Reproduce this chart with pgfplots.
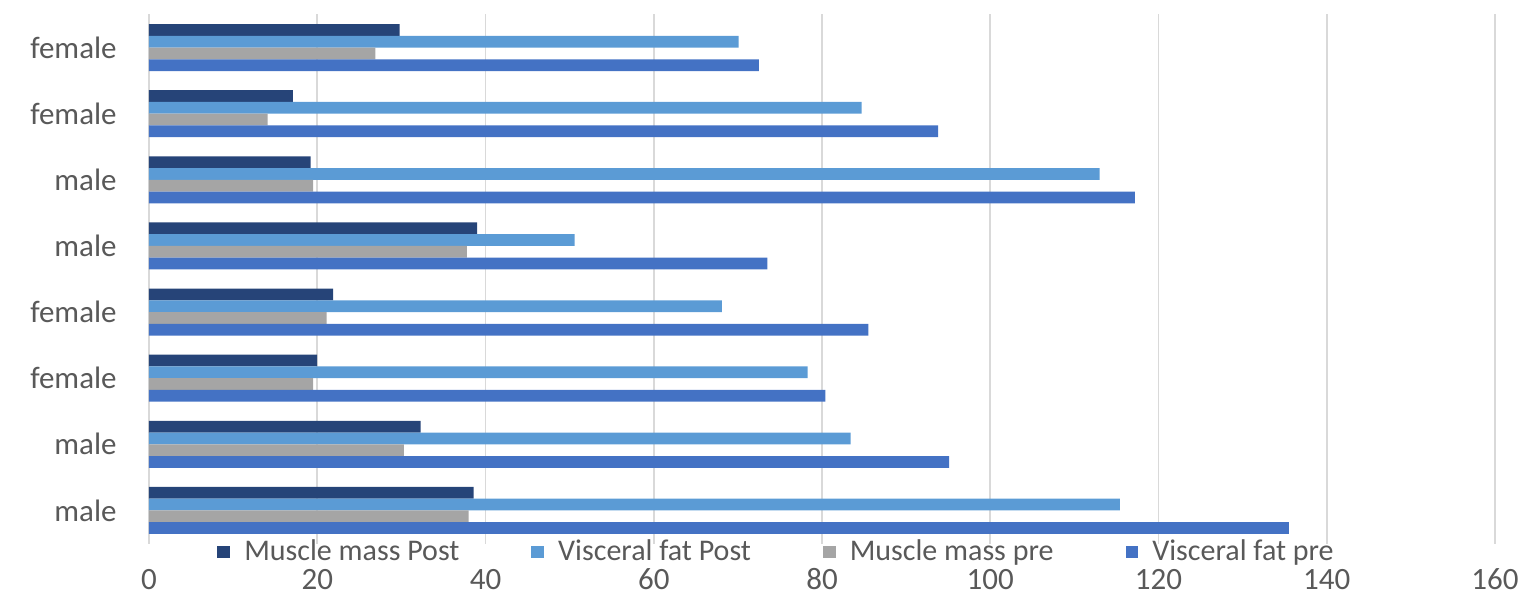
\documentclass[border=0pt]{standalone}
\usepackage{pgfplots}
\pgfplotsset{compat=1.18}
\usepackage{fontspec}
\setmainfont{Carlito}

\definecolor{mmpost}{HTML}{264478}
\definecolor{vfpost}{HTML}{5B9BD5}
\definecolor{mmpre}{HTML}{A5A5A5}
\definecolor{vfpre}{HTML}{4472C4}
\definecolor{txt}{HTML}{595959}
\definecolor{gridc}{HTML}{D9D9D9}

\begin{document}
\begin{tikzpicture}
\path[use as bounding box] (-74.5bp,-27.25bp) rectangle (694bp,271.75bp);
\begin{axis}[
  at={(0,0)}, anchor=south west,
  scale only axis,
  width=673bp, height=264.5bp,
  xbar, bar width=0.178,
  xmin=0, xmax=160,
  ymin=-0.5, ymax=7.5,
  xtick={0,20,...,160},
  ytick={0,1,2,3,4,5,6,7},
  yticklabels={male,male,female,female,male,male,female,female},
  xmajorgrids, grid style={draw=gridc, line width=0.9bp},
  axis line style={draw=none},
  major tick length=0pt,
  font=\fontsize{15.5bp}{18bp}\selectfont,
  /pgf/number format/assume math mode=true,
  tick label style={text=txt},
  xticklabel style={anchor=center, inner sep=0pt, yshift=-18bp},
  yticklabel style={anchor=east, inner sep=0pt, xshift=-16bp},
  legend columns=4,
  legend style={at={(0.467,-0.016)}, anchor=center, draw=none, fill=none,
    font=\fontsize{15bp}{17bp}\selectfont, text=txt,
    /tikz/every odd column/.append style={column sep=5bp},
    /tikz/every even column/.append style={column sep=34bp},
    inner sep=0pt},
  legend image code/.code={\path[#1, draw=none] (0bp,-3.2bp) rectangle (6.4bp,3.2bp);},
]
\addplot[fill=mmpost, draw=none, bar shift=0.267] coordinates {
  (38.6,0) (32.3,1) (20.0,2) (21.9,3) (39.0,4) (19.2,5) (17.1,6) (29.8,7)};
\addlegendentry{Muscle mass Post}
\addplot[fill=vfpost, draw=none, bar shift=0.089] coordinates {
  (115.4,0) (83.4,1) (78.3,2) (68.1,3) (50.6,4) (113.0,5) (84.7,6) (70.1,7)};
\addlegendentry{Visceral fat Post}
\addplot[fill=mmpre, draw=none, bar shift=-0.089] coordinates {
  (38.0,0) (30.3,1) (19.5,2) (21.1,3) (37.8,4) (19.5,5) (14.1,6) (26.9,7)};
\addlegendentry{Muscle mass pre}
\addplot[fill=vfpre, draw=none, bar shift=-0.267] coordinates {
  (135.5,0) (95.1,1) (80.4,2) (85.5,3) (73.5,4) (117.2,5) (93.8,6) (72.5,7)};
\addlegendentry{Visceral fat pre}
\end{axis}
\end{tikzpicture}
\end{document}
